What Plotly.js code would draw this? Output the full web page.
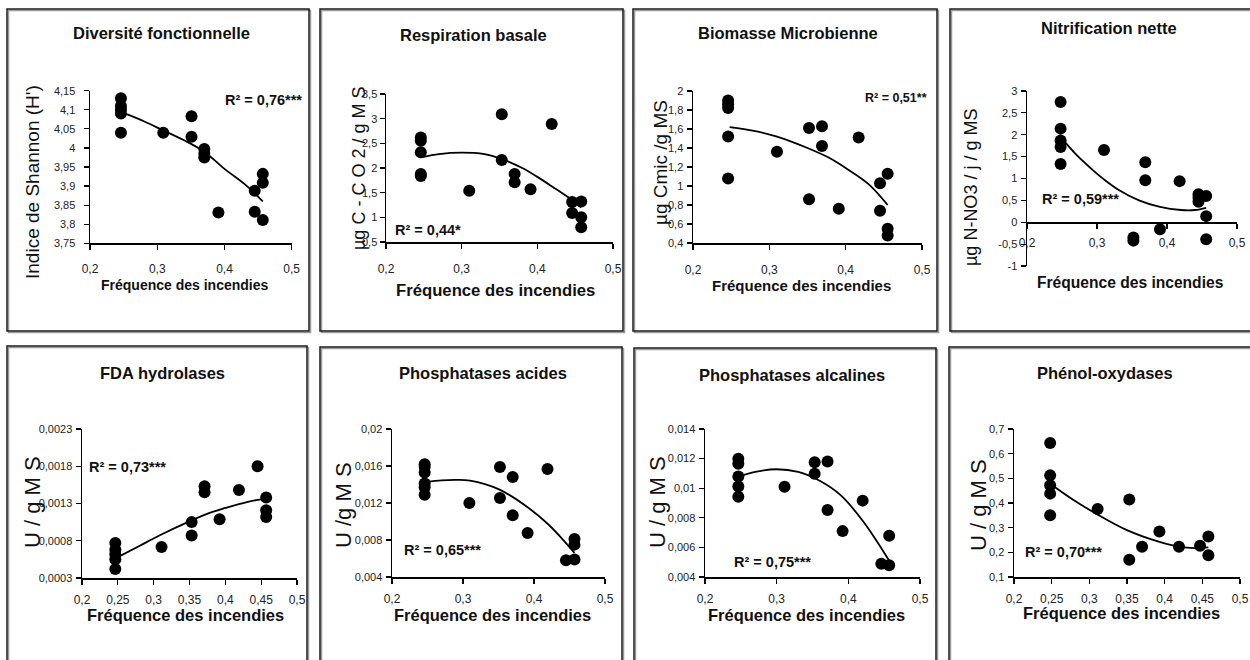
<!DOCTYPE html>
<html>
<head>
<meta charset="utf-8">
<script src="https://cdn.plot.ly/plotly-3.0.1.min.js"></script>
<style>html,body{margin:0;padding:0;background:#fff}#chart{width:1250px;height:660px}</style>
</head>
<body>
<div id="chart"></div>
<script>
// ---------- DATA ----------
const panelTitles = ["Diversité fonctionnelle","Respiration basale","Biomasse Microbienne","Nitrification nette",
                     "FDA hydrolases","Phosphatases acides","Phosphatases alcalines","Phénol-oxydases"];
const yTitles = ["Indice de Shannon (H')","µg C - C O 2 / g M S","µg Cmic /g MS","µg N-NO3 / j / g MS",
                 "U / g M S","U /g M S","U / g M S","U / g M S"];
const xTitle = "Fréquence des incendies";
const r2Labels = ["R² = 0,76***","R² = 0,44*","R² = 0,51**","R² = 0,59***",
                  "R² = 0,73***","R² = 0,65***","R² = 0,75***","R² = 0,70***"];

// Panel 1 – Diversité fonctionnelle
const divX = [0.246,0.246,0.246,0.246,0.246,0.309,0.351,0.351,0.370,0.370,0.370,0.391,0.445,0.445,0.457,0.457,0.457];
const divY = [4.13,4.11,4.10,4.09,4.04,4.04,4.083,4.029,3.997,3.985,3.975,3.831,3.888,3.833,3.932,3.909,3.811];
const divFitX = [0.248,0.28,0.31,0.34,0.37,0.40,0.43,0.457];
const divFitY = [4.093,4.07,4.045,4.02,3.99,3.945,3.905,3.86];

// Panel 2 – Respiration basale
const respX = [0.246,0.246,0.246,0.246,0.246,0.31,0.353,0.353,0.37,0.37,0.391,0.419,0.446,0.446,0.458,0.458,0.458];
const respY = [2.62,2.55,2.32,1.88,1.84,1.54,3.09,2.16,1.88,1.71,1.57,2.89,1.31,1.09,1.32,1.0,0.80];
const respFitX = [0.248,0.27,0.30,0.33,0.353,0.38,0.40,0.42,0.446,0.458];
const respFitY = [2.22,2.28,2.31,2.28,2.18,2.0,1.82,1.62,1.35,1.2];

// Panel 3 – Biomasse Microbienne
const bioX = [0.246,0.246,0.246,0.246,0.246,0.31,0.352,0.352,0.369,0.369,0.391,0.417,0.445,0.445,0.455,0.455,0.455];
const bioY = [1.90,1.86,1.82,1.52,1.08,1.36,1.61,0.86,1.63,1.42,0.76,1.51,1.03,0.74,1.13,0.55,0.48];
const bioFitX = [0.248,0.28,0.31,0.35,0.38,0.40,0.43,0.455];
const bioFitY = [1.62,1.58,1.52,1.40,1.29,1.19,1.02,0.80];

// Panel 4 – Nitrification nette
const nitX = [0.248,0.248,0.248,0.248,0.248,0.31,0.352,0.352,0.369,0.369,0.39,0.418,0.445,0.445,0.445,0.456,0.456,0.456];
const nitY = [2.75,2.14,1.87,1.72,1.33,1.65,-0.35,-0.42,1.37,0.96,-0.16,0.94,0.64,0.56,0.47,0.60,0.14,-0.39];
const nitFitX = [0.248,0.27,0.29,0.31,0.33,0.36,0.39,0.42,0.44,0.456];
const nitFitY = [1.95,1.55,1.25,0.98,0.75,0.50,0.35,0.28,0.28,0.33];

// Panel 5 – FDA hydrolases
const fdaX = [0.2465,0.2465,0.2465,0.2465,0.2465,0.311,0.353,0.353,0.371,0.371,0.392,0.419,0.445,0.457,0.457,0.457];
const fdaY = [0.00077,0.00068,0.00062,0.00055,0.00042,0.000715,0.00105,0.00087,0.00153,0.00145,0.00109,0.00148,0.0018,0.00138,0.00121,0.00112];
const fdaFitX = [0.248,0.28,0.31,0.35,0.38,0.40,0.43,0.457];
const fdaFitY = [0.00057,0.00073,0.00088,0.00106,0.00118,0.00124,0.00132,0.00137];

// Panel 6 – Phosphatases acides
const pacX = [0.246,0.246,0.246,0.246,0.246,0.246,0.309,0.352,0.352,0.37,0.37,0.391,0.419,0.445,0.457,0.457,0.457];
const pacY = [0.0162,0.0159,0.0153,0.0141,0.0137,0.0129,0.012,0.0159,0.01254,0.0148,0.01067,0.00876,0.01568,0.0058,0.0081,0.0075,0.0059];
const pacFitX = [0.248,0.27,0.29,0.31,0.35,0.39,0.42,0.44,0.457];
const pacFitY = [0.0143,0.01445,0.0145,0.01442,0.0135,0.0116,0.0097,0.0081,0.0066];

// Panel 7 – Phosphatases alcalines
const palX = [0.2465,0.2465,0.2465,0.2465,0.2465,0.311,0.353,0.353,0.371,0.371,0.392,0.42,0.446,0.457,0.457];
const palY = [0.01199,0.01165,0.01079,0.01011,0.00943,0.0101,0.01176,0.01097,0.01181,0.00853,0.0071,0.00916,0.0049,0.00678,0.00479];
const palFitX = [0.248,0.27,0.30,0.33,0.36,0.39,0.42,0.44,0.457];
const palFitY = [0.0108,0.0111,0.01128,0.0111,0.0105,0.0095,0.0078,0.0064,0.0051];

// Panel 8 – Phénol-oxydases
const pheX = [0.248,0.248,0.248,0.248,0.248,0.311,0.353,0.353,0.37,0.393,0.419,0.447,0.458,0.458];
const pheY = [0.643,0.512,0.472,0.438,0.35,0.376,0.414,0.17,0.223,0.284,0.223,0.227,0.264,0.188];
const pheFitX = [0.248,0.28,0.31,0.35,0.39,0.42,0.44,0.458];
const pheFitY = [0.478,0.41,0.355,0.29,0.245,0.222,0.217,0.22];

// Tick values and labels
const xTickVals10 = [0.2,0.3,0.4,0.5];
const xTickText10 = ["0,2","0,3","0,4","0,5"];
const xTickVals05 = [0.2,0.25,0.3,0.35,0.4,0.45,0.5];
const xTickText05 = ["0,2","0,25","0,3","0,35","0,4","0,45","0,5"];
const yTickVals1 = [3.75,3.8,3.85,3.9,3.95,4,4.05,4.1,4.15];
const yTickText1 = ["3,75","3,8","3,85","3,9","3,95","4","4,05","4,1","4,15"];
const yTickVals2 = [0.5,1,1.5,2,2.5,3,3.5];
const yTickText2 = ["0,5","1","1,5","2","2,5","3","3,5"];
const yTickVals3 = [0.4,0.6,0.8,1,1.2,1.4,1.6,1.8,2];
const yTickText3 = ["0,4","0,6","0,8","1","1,2","1,4","1,6","1,8","2"];
const yTickVals4 = [-1,-0.5,0,0.5,1,1.5,2,2.5,3];
const yTickText4 = ["-1","-0,5","0","0,5","1","1,5","2","2,5","3"];
const yTickVals5 = [0.0003,0.0008,0.0013,0.0018,0.0023];
const yTickText5 = ["0,0003","0,0008","0,0013","0,0018","0,0023"];
const yTickVals6 = [0.004,0.008,0.012,0.016,0.02];
const yTickText6 = ["0,004","0,008","0,012","0,016","0,02"];
const yTickVals7 = [0.004,0.006,0.008,0.01,0.012,0.014];
const yTickText7 = ["0,004","0,006","0,008","0,01","0,012","0,014"];
const yTickVals8 = [0.1,0.2,0.3,0.4,0.5,0.6,0.7];
const yTickText8 = ["0,1","0,2","0,3","0,4","0,5","0,6","0,7"];

// ---------- LAYOUT HELPERS ----------
const W = 1250, H = 660;
const fx = p => p / W;
const fy = p => 1 - p / H;
const SANS = "Liberation Sans, Arial, sans-serif";

const series = [
  [divX, divY, divFitX, divFitY], [respX, respY, respFitX, respFitY],
  [bioX, bioY, bioFitX, bioFitY], [nitX, nitY, nitFitX, nitFitY],
  [fdaX, fdaY, fdaFitX, fdaFitY], [pacX, pacY, pacFitX, pacFitY],
  [palX, palY, palFitX, palFitY], [pheX, pheY, pheFitX, pheFitY]
];
const yTicks = [[yTickVals1,yTickText1],[yTickVals2,yTickText2],[yTickVals3,yTickText3],[yTickVals4,yTickText4],
                [yTickVals5,yTickText5],[yTickVals6,yTickText6],[yTickVals7,yTickText7],[yTickVals8,yTickText8]];
const xTicks = [[xTickVals10,xTickText10],[xTickVals10,xTickText10],[xTickVals10,xTickText10],[xTickVals10,xTickText10],
                [xTickVals05,xTickText05],[xTickVals10,xTickText10],[xTickVals10,xTickText10],[xTickVals05,xTickText05]];

// plot-area pixel boxes: [left, right, top, bottom]
const boxes = [
  [90, 291.7, 90.7, 243.3], [386, 613, 94, 242], [693, 922, 91, 243], [1027, 1237, 91, 266],
  [82, 297, 429, 578], [392, 605, 429, 577], [705, 920, 429, 577], [1014, 1240, 429, 577]
];
// extra gap between axis and tick labels [x, y]
const standoff = [[9,6],[10,0],[10,1],[4,1],[5,1],[5,1],[5,1],[5,1]];
// panel frames [x0, y0, x1, y1]
const frames = [
  [7, 9, 309, 331], [320, 9, 623, 331], [633, 9, 937, 331], [950, 9, 1256, 331],
  [7, 346, 307, 668], [320, 347, 622, 668], [634, 348, 936, 668], [949, 347, 1256, 668]
];
const titlePos = [[161,33],[473,35],[788,33],[1109,28],[162,373],[483,373],[792,375],[1105,373]];
const yTitlePos = [[32,182,19],[359,169,18],[660,163,19],[971,188,18],
                   [32,502,22],[343,505,22],[657,502,22],[978,505,22]];
const xTitlePos = [[184,285,14],[495,290,16.7],[802,285,15],[1130,283,15.6],
                   [185,615,16.5],[493,615,16.5],[806,615,16.5],[1121,613,16.5]];
const r2Pos = [[223,100,14.5],[393,230,14.5],[863,98,12.5],[1040,199,14.5],[87,467,14.5],[402,550,14.5],[732,562,14.5],[1023,552,14.5]];

const data = [];
const layout = {
  width: W, height: H,
  margin: {l:0, r:0, t:0, b:0},
  paper_bgcolor: '#fff', plot_bgcolor: '#fff',
  showlegend: false,
  font: {family: SANS, size: 11, color: '#111'},
  annotations: [], shapes: []
};

for (let i = 0; i < 8; i++) {
  const n = i + 1;
  const xa = 'x' + (n === 1 ? '' : n), ya = 'y' + (n === 1 ? '' : n);
  const [px, py, fxv, fyv] = series[i];
  data.push({x: px, y: py, xaxis: xa, yaxis: ya, type: 'scatter', mode: 'markers',
             marker: {color: '#000', size: 12}, hoverinfo: 'skip', cliponaxis: false});
  data.push({x: fxv, y: fyv, xaxis: xa, yaxis: ya, type: 'scatter', mode: 'lines',
             line: {color: '#000', width: 1.8, shape: 'spline', smoothing: 1}, hoverinfo: 'skip'});
  const [l, r, t, b] = boxes[i];
  const yv = yTicks[i][0];
  const xKey = 'xaxis' + (n === 1 ? '' : n), yKey = 'yaxis' + (n === 1 ? '' : n);
  const xAxis = {
    domain: [fx(l), fx(r)], range: [0.2, 0.5], anchor: ya,
    tickmode: 'array', tickvals: xTicks[i][0], ticktext: xTicks[i][1],
    showline: true, linecolor: '#000', linewidth: 1.5, ticks: 'outside', ticklen: 5, tickcolor: '#000', tickwidth: 1.2,
    ticklabelstandoff: standoff[i][0],
    showgrid: false, zeroline: false, fixedrange: true,
    tickfont: {family: SANS, size: 12, color: '#222'}
  };
  if (i === 3) {
    const y0px = t + (b - t) * (3 - 0) / 4;
    xAxis.anchor = 'free';
    xAxis.position = fy(y0px);
  }
  layout[xKey] = xAxis;
  layout[yKey] = {
    domain: [fy(b), fy(t)], range: [yv[0], yv[yv.length - 1]], anchor: xa,
    tickmode: 'array', tickvals: yv, ticktext: yTicks[i][1],
    showline: true, linecolor: '#000', linewidth: 1.5, ticks: 'outside', ticklen: 5, tickcolor: '#000', tickwidth: 1.2,
    ticklabelstandoff: standoff[i][1],
    showgrid: false, zeroline: false, fixedrange: true,
    tickfont: {family: SANS, size: 11, color: '#222'}
  };
  const [fx0, fy0, fx1, fy1] = frames[i];
  layout.shapes.push({type: 'rect', xref: 'paper', yref: 'paper',
    x0: fx(fx0 + 1.5), x1: fx(fx1 + 1.5), y0: fy(fy1 + 1.5), y1: fy(fy0 + 1.5),
    line: {color: '#9a9a9a', width: 1.5}, layer: 'below'});
  layout.shapes.push({type: 'rect', xref: 'paper', yref: 'paper',
    x0: fx(fx0), x1: fx(fx1), y0: fy(fy1), y1: fy(fy0),
    line: {color: '#1a1a1a', width: 1.5}, fillcolor: 'rgba(0,0,0,0)', layer: 'below'});
  layout.annotations.push({text: '<b>' + panelTitles[i] + '</b>', xref: 'paper', yref: 'paper',
    x: fx(titlePos[i][0]), y: fy(titlePos[i][1]), xanchor: 'center', yanchor: 'middle', showarrow: false,
    font: {family: SANS, size: 16.5, color: '#111'}});
  layout.annotations.push({text: yTitles[i], xref: 'paper', yref: 'paper', textangle: -90,
    x: fx(yTitlePos[i][0]), y: fy(yTitlePos[i][1]), xanchor: 'center', yanchor: 'middle', showarrow: false,
    font: {family: SANS, size: yTitlePos[i][2], color: '#111'}});
  layout.annotations.push({text: '<b>' + xTitle + '</b>', xref: 'paper', yref: 'paper',
    x: fx(xTitlePos[i][0]), y: fy(xTitlePos[i][1]), xanchor: 'center', yanchor: 'middle', showarrow: false,
    font: {family: SANS, size: xTitlePos[i][2], color: '#111'}});
  layout.annotations.push({text: '<b>' + r2Labels[i] + '</b>', xref: 'paper', yref: 'paper',
    x: fx(r2Pos[i][0]), y: fy(r2Pos[i][1]), xanchor: 'left', yanchor: 'middle', showarrow: false,
    font: {family: SANS, size: r2Pos[i][2], color: '#111'}});
}

Plotly.newPlot('chart', data, layout, {displayModeBar: false, staticPlot: true});
</script>
</body>
</html>
